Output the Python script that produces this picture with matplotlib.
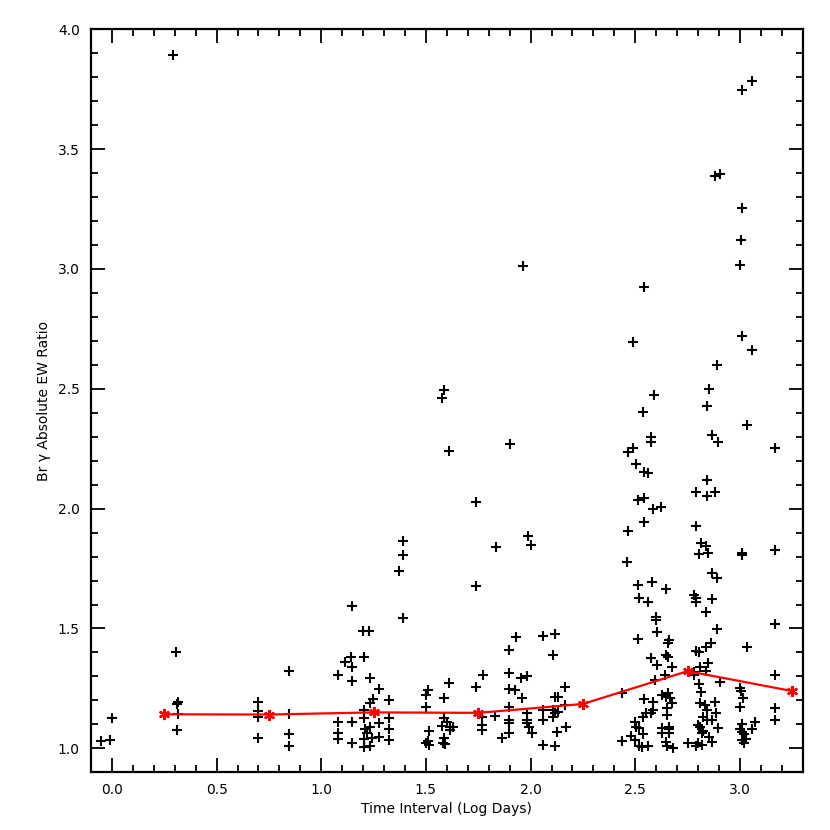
import matplotlib
matplotlib.use("Agg")
import matplotlib.pyplot as plt
from matplotlib.ticker import MultipleLocator, FormatStrFormatter

# Scatter data: time interval (log days) and Br gamma absolute EW ratio
log_days = [
    -0.05, -0.01, 0.00,
    0.293, 0.304, 0.315, 0.309, 0.315, 0.312,
    0.698, 0.698, 0.698, 0.698,
    0.846, 0.846, 0.846, 0.846,
    1.078, 1.078, 1.078, 1.078,
    1.114, 1.142, 1.146, 1.146, 1.146, 1.146, 1.146,
    1.202, 1.200, 1.227, 1.231, 1.278, 1.249, 1.231, 1.323, 1.202, 1.202,
    1.278, 1.323, 1.231, 1.323, 1.202, 1.202, 1.231, 1.242, 1.278, 1.323,
    1.210, 1.220,
    1.392, 1.392, 1.373, 1.392,
    1.51, 1.50, 1.50, 1.515, 1.50, 1.515, 1.51,
    1.577, 1.588, 1.612, 1.612, 1.588, 1.587, 1.600, 1.576, 1.615, 1.628,
    1.615, 1.588, 1.580, 1.590,
    1.739, 1.739, 1.774, 1.739, 1.766, 1.766, 1.766,
    1.833, 1.832, 1.862,
    1.901, 1.898, 1.928, 1.898, 1.898, 1.927, 1.958, 1.952, 1.897, 1.898,
    1.898, 1.898,
    1.962, 1.990, 2.003, 1.984, 1.984, 1.984, 1.984, 1.993, 2.005,
    2.060, 2.116, 2.108, 2.165, 2.116, 2.132, 2.165, 2.060, 2.108, 2.116,
    2.132, 2.060, 2.108, 2.168, 2.128, 2.060, 2.116,
    2.542, 2.489, 2.588, 2.539, 2.577, 2.577, 2.466, 2.487, 2.502, 2.542,
    2.561, 2.513, 2.542, 2.585, 2.621, 2.540, 2.466, 2.461, 2.515, 2.578,
    2.645, 2.518, 2.561, 2.597, 2.597, 2.604, 2.515, 2.661, 2.656, 2.577,
    2.604, 2.645, 2.656, 2.677, 2.593, 2.640, 2.439, 2.629, 2.656, 2.645,
    2.664, 2.542, 2.585, 2.677, 2.650, 2.650, 2.585, 2.553, 2.537, 2.577,
    2.497, 2.505, 2.518, 2.537, 2.630, 2.630, 2.660, 2.660, 2.660, 2.439,
    2.480, 2.500, 2.520, 2.530, 2.560, 2.645, 2.650, 2.680,
    2.882, 2.903, 2.892, 2.852, 2.842, 2.866, 2.895, 2.842, 2.792, 2.842,
    2.879, 2.792, 2.815, 2.839, 2.804, 2.847, 2.868, 2.892, 2.783, 2.792,
    2.792, 2.868, 2.839, 2.890, 2.863, 2.839, 2.792, 2.804, 2.847, 2.811,
    2.839, 2.779, 2.783, 2.804, 2.815, 2.903,
    2.807, 2.835, 2.880, 2.845, 2.887, 2.826, 2.842, 2.866, 2.800, 2.807,
    2.826, 2.895, 2.818, 2.853, 2.868, 2.800, 2.818, 2.750, 2.790,
    3.059, 3.011, 3.008, 3.004, 3.001, 3.009, 3.059, 3.035, 3.008, 3.012,
    3.033, 3.001, 3.006, 3.014, 3.000, 3.070, 3.059, 3.010, 3.000, 3.010,
    3.020, 3.030, 3.010, 3.020,
    3.170, 3.170, 3.170, 3.170, 3.170, 3.170,
]
ew_ratio = [
    1.030, 1.033, 1.126,
    3.893, 1.401, 1.194, 1.183, 1.142, 1.076,
    1.194, 1.157, 1.132, 1.043,
    1.322, 1.143, 1.060, 1.010,
    1.305, 1.111, 1.062, 1.037,
    1.361, 1.382, 1.340, 1.594, 1.282, 1.111, 1.023,
    1.379, 1.490, 1.490, 1.292, 1.246, 1.204, 1.190, 1.201, 1.160, 1.125,
    1.107, 1.125, 1.090, 1.079, 1.037, 1.004, 1.010, 1.042, 1.048, 1.035,
    1.080, 1.065,
    1.865, 1.808, 1.740, 1.544,
    1.243, 1.222, 1.173, 1.072, 1.022, 1.015, 1.030,
    2.462, 2.497, 2.240, 1.273, 1.212, 1.125, 1.111, 1.093, 1.090, 1.087,
    1.076, 1.042, 1.023, 1.018,
    2.028, 1.676, 1.308, 1.255, 1.129, 1.097, 1.076,
    1.840, 1.135, 1.042,
    2.269, 1.412, 1.465, 1.315, 1.246, 1.243, 1.210, 1.292, 1.171, 1.118,
    1.104, 1.062,
    3.014, 1.886, 1.850, 1.303, 1.146, 1.118, 1.104, 1.087, 1.062,
    1.469, 1.479, 1.389, 1.254, 1.215, 1.215, 1.180, 1.159, 1.159, 1.146,
    1.152, 1.117, 1.132, 1.090, 1.069, 1.014, 1.010,
    2.923, 2.697, 2.476, 2.404, 2.301, 2.280, 2.237, 2.251, 2.185, 2.151,
    2.147, 2.037, 2.046, 2.000, 2.008, 1.944, 1.905, 1.779, 1.680, 1.693,
    1.663, 1.629, 1.610, 1.546, 1.535, 1.486, 1.457, 1.454, 1.440, 1.378,
    1.347, 1.389, 1.382, 1.340, 1.287, 1.305, 1.229, 1.222, 1.232, 1.215,
    1.208, 1.204, 1.194, 1.190, 1.167, 1.139, 1.160, 1.146, 1.132, 1.148,
    1.111, 1.090, 1.083, 1.058, 1.083, 1.062, 1.090, 1.080, 1.062, 1.032,
    1.050, 1.035, 1.010, 1.007, 1.010, 1.028, 1.010, 1.000,
    3.386, 3.398, 2.600, 2.501, 2.429, 2.308, 2.280, 2.118, 2.068, 2.051,
    2.068, 1.926, 1.857, 1.843, 1.810, 1.815, 1.732, 1.712, 1.640, 1.629,
    1.611, 1.621, 1.569, 1.498, 1.438, 1.423, 1.407, 1.400, 1.357, 1.338,
    1.323, 1.319, 1.305, 1.268, 1.233, 1.275,
    1.190, 1.180, 1.195, 1.159, 1.146, 1.132, 1.118, 1.120, 1.097, 1.090,
    1.073, 1.083, 1.062, 1.048, 1.028, 1.023, 1.014, 1.024, 1.010,
    3.783, 3.746, 3.254, 3.121, 3.017, 2.722, 2.660, 2.348, 1.813, 1.806,
    1.421, 1.250, 1.240, 1.208, 1.173, 1.111, 1.079, 1.100, 1.080, 1.070,
    1.060, 1.040, 1.035, 1.024,
    2.254, 1.829, 1.518, 1.305, 1.167, 1.118,
]

# Binned averages (red line)
bin_centers = [0.25, 0.75, 1.25, 1.75, 2.25, 2.75, 3.25]
bin_means = [1.142, 1.141, 1.150, 1.148, 1.185, 1.322, 1.239]

fig = plt.figure(figsize=(8.3, 8.3), dpi=100)
ax = fig.add_axes([91 / 830, 1 - 772.3 / 830, (802.7 - 91) / 830, (772.3 - 29.3) / 830])

ax.plot(log_days, ew_ratio, linestyle="none", marker="+", color="black",
        markersize=7.5, markeredgewidth=1.5)
ax.plot(bin_centers, bin_means, color="red", linewidth=1.6,
        marker=(6, 2, 0), markersize=8, markeredgewidth=1.6,
        markeredgecolor="red")

ax.set_xlim(-0.1, 3.3)
ax.set_ylim(0.9, 4.0)
ax.xaxis.set_major_locator(MultipleLocator(0.5))
ax.xaxis.set_minor_locator(MultipleLocator(0.1))
ax.yaxis.set_major_locator(MultipleLocator(0.5))
ax.yaxis.set_minor_locator(MultipleLocator(0.1))
ax.xaxis.set_major_formatter(FormatStrFormatter("%.1f"))
ax.yaxis.set_major_formatter(FormatStrFormatter("%.1f"))

ax.tick_params(which="both", direction="in", top=True, right=True,
               width=1.3, labelsize=10, pad=8)
ax.tick_params(which="major", length=10)
ax.tick_params(which="minor", length=5)
for s in ax.spines.values():
    s.set_linewidth(1.6)

ax.set_xlabel("Time Interval (Log Days)", fontsize=10, labelpad=3)
ax.set_ylabel("Br \u03b3 Absolute EW Ratio", fontsize=10, labelpad=5)

fig.savefig("out.png", dpi=100)
